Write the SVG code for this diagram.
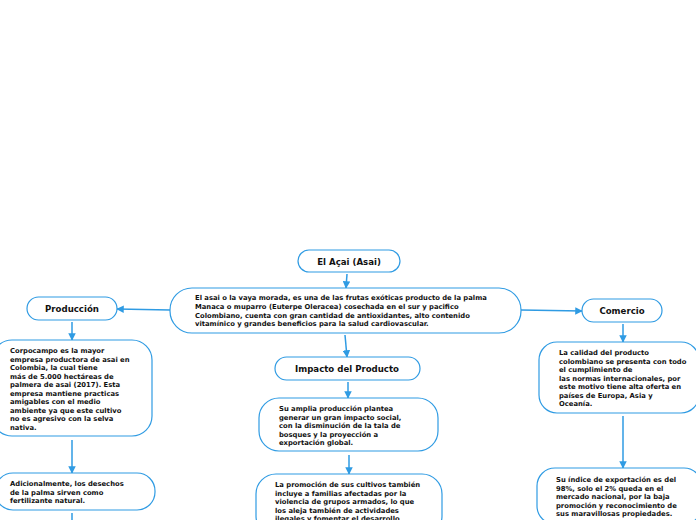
<svg xmlns="http://www.w3.org/2000/svg" width="696" height="520" viewBox="0 0 696 520">
<defs>
<style>
.n{fill:#fff;stroke:#2f9be3;stroke-width:1.2}
.t{font-family:"DejaVu Sans",Verdana,sans-serif;font-weight:bold;font-size:6.8px;fill:#111}
.h{font-family:"DejaVu Sans",Verdana,sans-serif;font-weight:bold;font-size:8.6px;fill:#111;text-anchor:middle}
.c{stroke:#2f9be3;stroke-width:1.5;fill:none}
</style>
<marker id="a" viewBox="0 0 10 10" refX="9" refY="5" markerWidth="5" markerHeight="5" orient="auto">
<path d="M0,0L10,5L0,10z" fill="#2f9be3"/>
</marker>
</defs>
<rect width="696" height="520" fill="#fff"/>
<g id="connectors">
<path class="c" d="M347,274 L346,288" marker-end="url(#a)"/>
<path class="c" d="M170,310 L117,309" marker-end="url(#a)"/>
<path class="c" d="M521,310 L582,311" marker-end="url(#a)"/>
<path class="c" d="M345,335 L347,357" marker-end="url(#a)"/>
<path class="c" d="M72,322 L72,340" marker-end="url(#a)"/>
<path class="c" d="M72,440 L72,473" marker-end="url(#a)"/>
<path class="c" d="M72,513 L72,520"/>
<path class="c" d="M348,382 L348,398" marker-end="url(#a)"/>
<path class="c" d="M349,455 L349,474" marker-end="url(#a)"/>
<path class="c" d="M623,324 L623,342" marker-end="url(#a)"/>
<path class="c" d="M623,416 L623,468" marker-end="url(#a)"/>
</g>
<g id="title">
<rect class="n" x="298" y="250" width="102" height="22" rx="11"/>
<text class="h" x="349" y="265">El Açai (Asai)</text>
</g>
<g id="main">
<rect class="n" x="170" y="288" width="351" height="45" rx="22"/>
<text class="t"><tspan x="195" y="300">El asai o la vaya morada, es una de las frutas exóticas producto de la palma</tspan><tspan x="195" y="309">Manaca o muparro (Euterpe Oleracea) cosechada en el sur y pacifico</tspan><tspan x="195" y="317.5">Colombiano, cuenta con gran cantidad de  antioxidantes, alto contenido</tspan><tspan x="195" y="326">vitamínico y grandes beneficios para la salud cardiovascular.</tspan></text>
</g>
<g id="produccion">
<rect class="n" x="27" y="297" width="90" height="23" rx="11.5"/>
<text class="h" x="72" y="312">Producción</text>
</g>
<g id="corpocampo">
<rect class="n" x="-8" y="340" width="160" height="96" rx="20"/>
<text class="t"><tspan x="10" y="353">Corpocampo es la mayor</tspan><tspan x="10" y="361.5">empresa productora de asai en</tspan><tspan x="10" y="370">Colombia, la cual tiene</tspan><tspan x="10" y="378.5">más de 5.000 hectáreas de</tspan><tspan x="10" y="387">palmera de asai (2017). Esta</tspan><tspan x="10" y="395.5">empresa mantiene  practicas</tspan><tspan x="10" y="404">amigables con el medio</tspan><tspan x="10" y="412.5">ambiente ya que este cultivo</tspan><tspan x="10" y="421">no es agresivo con la selva</tspan><tspan x="10" y="429.5">nativa.</tspan></text>
</g>
<g id="adicionalmente">
<rect class="n" x="-5" y="473" width="160" height="37" rx="18"/>
<text class="t"><tspan x="10" y="486">Adicionalmente, los desechos</tspan><tspan x="10" y="494.5">de la palma sirven como</tspan><tspan x="10" y="503">fertilizante natural.</tspan></text>
</g>
<g id="impacto">
<rect class="n" x="275" y="357" width="145" height="23" rx="11.5"/>
<text class="h" x="347" y="372">Impacto del Producto</text>
</g>
<g id="amplia">
<rect class="n" x="259" y="398" width="179" height="53" rx="20"/>
<text class="t"><tspan x="279" y="411">Su amplia producción plantea</tspan><tspan x="279" y="419.5">generar un gran impacto social,</tspan><tspan x="279" y="428">con la disminución de la tala de</tspan><tspan x="279" y="436.5">bosques y la proyección a</tspan><tspan x="279" y="445">exportación global.</tspan></text>
</g>
<g id="promocion">
<rect class="n" x="256" y="474" width="186" height="62" rx="20"/>
<text class="t"><tspan x="275" y="487">La promoción de sus cultivos también</tspan><tspan x="275" y="495.5">incluye a familias afectadas por la</tspan><tspan x="275" y="504">violencia de grupos  armados, lo que</tspan><tspan x="275" y="512.5">los aleja también de actividades</tspan><tspan x="275" y="521">ilegales y fomentar el desarrollo</tspan></text>
</g>
<g id="comercio">
<rect class="n" x="582" y="299" width="80" height="23" rx="11.5"/>
<text class="h" x="622" y="314">Comercio</text>
</g>
<g id="calidad">
<rect class="n" x="539" y="342" width="160" height="71" rx="18"/>
<text class="t"><tspan x="559" y="355">La calidad del producto</tspan><tspan x="559" y="363.5">colombiano se presenta con todo</tspan><tspan x="559" y="372">el cumplimiento de</tspan><tspan x="559" y="380.5">las normas internacionales, por</tspan><tspan x="559" y="389">este motivo tiene alta oferta en</tspan><tspan x="559" y="397.5">países de  Europa, Asia y</tspan><tspan x="559" y="406">Oceanía.</tspan></text>
</g>
<g id="indice">
<rect class="n" x="537" y="468" width="165" height="56" rx="18"/>
<text class="t"><tspan x="556" y="482">Su índice de exportación es del</tspan><tspan x="556" y="490.5">98%, solo el 2% queda en el</tspan><tspan x="556" y="499">mercado nacional, por la baja</tspan><tspan x="556" y="507.5">promoción y reconocimiento de</tspan><tspan x="556" y="516">sus maravillosas propiedades.</tspan></text>
</g>
</svg>
